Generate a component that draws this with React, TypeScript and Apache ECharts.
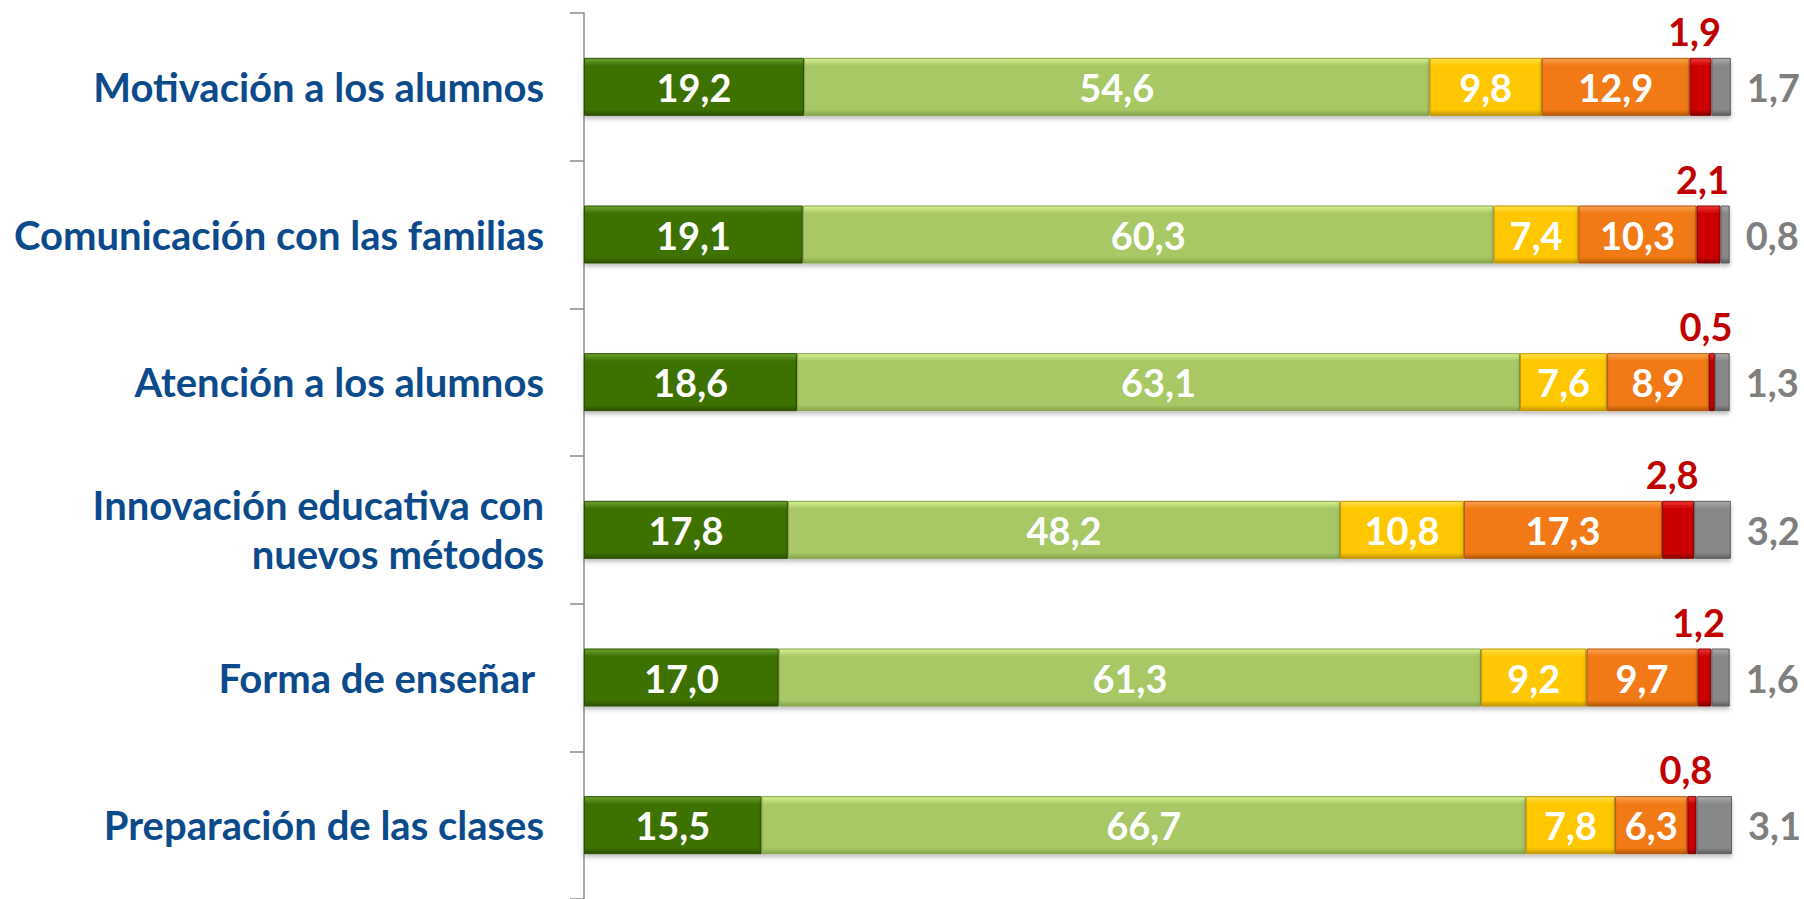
import React, { useEffect, useRef } from "react";
import * as echarts from "echarts";

const categories = [
  "Motivación a los alumnos",
  "Comunicación con las familias",
  "Atención a los alumnos",
  "Innovación educativa con\nnuevos métodos",
  "Forma de enseñar ",
  "Preparación de las clases",
];

const seriesValues: number[][] = [
  [19.2, 19.1, 18.6, 17.8, 17.0, 15.5],
  [54.6, 60.3, 63.1, 48.2, 61.3, 66.7],
  [9.8, 7.4, 7.6, 10.8, 9.2, 7.8],
  [12.9, 10.3, 8.9, 17.3, 9.7, 6.3],
  [1.9, 2.1, 0.5, 2.8, 1.2, 0.8],
  [1.7, 0.8, 1.3, 3.2, 1.6, 3.1],
];

const seriesNames = ["S1", "S2", "S3", "S4", "S5", "S6"];

const palette = [
  { base: "#3E7106", top: "#6EA42C", border: "#2C5004" },
  { base: "#A8C866", top: "#D6F090", border: "#86A44C" },
  { base: "#FFC700", top: "#FFE04A", border: "#C29600" },
  { base: "#F27A12", top: "#F9A356", border: "#B2580A" },
  { base: "#CC0000", top: "#F03838", border: "#860000" },
  { base: "#888888", top: "#ABABAB", border: "#5E5E5E" },
];

const fmt = (v: number) => v.toFixed(1).replace(".", ",");

export default function App() {
  const ref = useRef<HTMLDivElement>(null);
  useEffect(() => {
    if (!ref.current) return;
    const chart = echarts.init(ref.current, undefined, { renderer: "svg" });
    const font = "Lato, 'Open Sans', sans-serif";
    const series = seriesValues.map((vals, i) => {
      const c = palette[i];
      let label: any;
      if (i < 4) {
        label = {
          show: true,
          position: "inside",
          color: "#FFFFFF",
          fontFamily: font,
          fontWeight: "bold",
          fontSize: 38,
          formatter: (p: any) => fmt(p.value),
        };
      } else if (i === 4) {
        label = {
          show: true,
          position: "top",
          distance: 8,
          offset: [-6, 0],
          color: "#C00000",
          fontFamily: font,
          fontWeight: "bold",
          fontSize: 38,
          formatter: (p: any) => fmt(p.value),
        };
      } else {
        label = {
          show: true,
          position: "right",
          distance: 16,
          color: "#7F7F7F",
          fontFamily: font,
          fontWeight: "bold",
          fontSize: 38,
          formatter: (p: any) => fmt(p.value),
        };
      }
      return {
        name: seriesNames[i],
        type: "bar",
        stack: "total",
        barWidth: 58,
        data: vals,
        label,
        itemStyle: {
          color: new echarts.graphic.LinearGradient(0, 0, 0, 1, [
            { offset: 0, color: c.top },
            { offset: 0.13, color: c.base },
            { offset: 0.9, color: c.base },
            { offset: 1, color: c.border },
          ]),
          borderColor: c.border,
          borderWidth: 1,
          shadowColor: "rgba(0,0,0,0.25)",
          shadowBlur: 4,
          shadowOffsetY: 3,
        },
      };
    });
    chart.setOption({
      animation: false,
      backgroundColor: "#FFFFFF",
      grid: { left: 584, top: 13, width: 1148, height: 889, containLabel: false },
      xAxis: {
        type: "value",
        min: 0,
        max: 100.2,
        show: false,
      },
      yAxis: {
        type: "category",
        inverse: true,
        data: categories,
        axisLine: { show: true, lineStyle: { color: "#8C8C8C", width: 1.5 } },
        axisTick: { show: true, inside: false, length: 14, lineStyle: { color: "#8C8C8C", width: 1.5 } },
        axisLabel: {
          margin: 40,
          color: "#0B4A8B",
          fontFamily: font,
          fontWeight: "bold",
          fontSize: 40,
          lineHeight: 49,
          align: "right",
        },
      },
      series,
    });
    return () => chart.dispose();
  }, []);
  return (
    <div
      ref={ref}
      style={{ position: "fixed", left: 0, top: 0, width: 1804, height: 899 }}
    />
  );
}
